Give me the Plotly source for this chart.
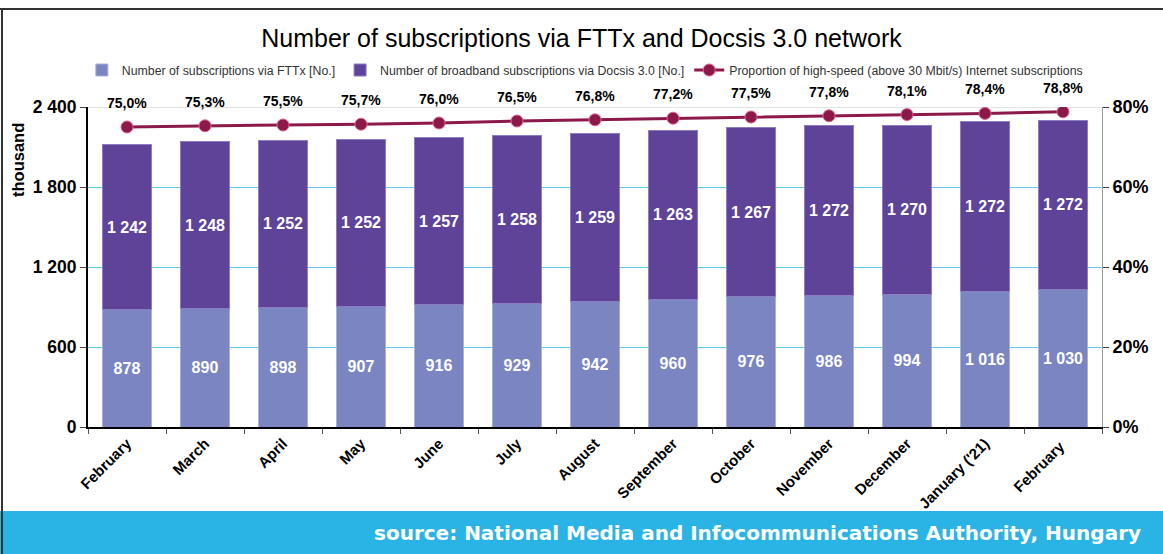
import plotly.graph_objects as go

# data
months = ["February", "March", "April", "May", "June", "July", "August",
          "September", "October", "November", "December", "January ('21)", "February "]
fttx = [878, 890, 898, 907, 916, 929, 942, 960, 976, 986, 994, 1016, 1030]
docsis = [1242, 1248, 1252, 1252, 1257, 1258, 1259, 1263, 1267, 1272, 1270, 1272, 1272]
share = [75.0, 75.3, 75.5, 75.7, 76.0, 76.5, 76.8, 77.2, 77.5, 77.8, 78.1, 78.4, 78.8]

FTTX_COLOR = "#7b85c2"
DOCSIS_COLOR = "#5e4399"
LINE_COLOR = "#8b1a4b"
BAND_COLOR = "#2ab4e6"
FONT = "Liberation Sans, Arial, sans-serif"

W, H = 1163, 554
L, R, T, B = 88, 1102, 107, 427


def px_x(x):
    return (x - L) / (R - L)


def px_y(y):
    return (B - y) / (B - T)


def fmt(v):
    return f"{v:,}".replace(",", " ")


bar_text = dict(color="white", size=16, family=FONT, weight="bold")

fig = go.Figure()

fig.add_trace(go.Bar(
    x=months, y=fttx, name="Number of subscriptions via FTTx [No.]",
    marker=dict(color=FTTX_COLOR, line=dict(color="#aab0dc", width=1)),
    text=[fmt(v) for v in fttx], textposition="inside", insidetextanchor="middle",
    textangle=0, constraintext="none", textfont=bar_text,
))
fig.add_trace(go.Bar(
    x=months, y=docsis, name="Number of broadband subscriptions via Docsis 3.0 [No.]",
    marker=dict(color=DOCSIS_COLOR, line=dict(color="#8c7cc0", width=1)),
    text=[fmt(v) for v in docsis], textposition="inside", insidetextanchor="middle",
    textangle=0, constraintext="none", textfont=bar_text,
))
fig.add_trace(go.Scatter(
    x=months, y=[s / 100 for s in share], yaxis="y2", mode="lines+markers",
    name="Proportion of high-speed (above 30 Mbit/s) Internet subscriptions",
    line=dict(color=LINE_COLOR, width=3),
    marker=dict(color=LINE_COLOR, size=12, line=dict(color="#e0608f", width=1)),
))

# percentage labels above the line
for m, s in zip(months, share):
    fig.add_annotation(
        x=m, y=s / 100, yref="y2", yshift=24, showarrow=False,
        text=f"{s:.1f}%".replace(".", ","),
        font=dict(size=14, color="black", family=FONT, weight="bold"),
    )

# y axis title
fig.add_annotation(
    xref="paper", yref="paper", x=px_x(18), y=px_y(160), text="thousand",
    xanchor="center", yanchor="middle", textangle=-90, showarrow=False,
    font=dict(size=16.5, color="black", family=FONT, weight="bold"),
)

# source band + frame
shapes = [
    dict(type="rect", xref="paper", yref="paper", x0=px_x(0), x1=px_x(W),
         y0=px_y(H), y1=px_y(511), fillcolor=BAND_COLOR, line_width=0, layer="below"),
    dict(type="line", xref="paper", yref="paper", x0=px_x(0), x1=px_x(W),
         y0=px_y(9), y1=px_y(9), line=dict(color="#333333", width=2)),
    dict(type="line", xref="paper", yref="paper", x0=px_x(2), x1=px_x(2),
         y0=px_y(9), y1=px_y(H), line=dict(color="#333333", width=2)),
    dict(type="line", xref="paper", yref="y", x0=0, x1=1, y0=2400, y1=2400,
         line=dict(color="#e2e2e2", width=2), layer="below"),
]
fig.add_annotation(
    xref="paper", yref="paper", x=px_x(1143), y=px_y(533), xanchor="right", yanchor="middle",
    text="source: National Media and Infocommunications Authority, Hungary",
    showarrow=False, font=dict(size=20, color="white", family="DejaVu Sans", weight="bold"),
)

fig.update_layout(
    width=W, height=H,
    margin=dict(l=L, r=W - R, t=T, b=H - B, autoexpand=False),
    barmode="stack", bargap=0.37,
    paper_bgcolor="white", plot_bgcolor="white",
    separators=", ",
    shapes=shapes,
    title=dict(text="Number of subscriptions via FTTx and Docsis 3.0 network",
               x=0.5, xref="container", y=1 - 38 / H, yref="container",
               yanchor="middle", font=dict(size=25, color="black", family=FONT)),
    legend=dict(orientation="h", x=0.49, xanchor="center",
                y=px_y(70), yanchor="middle", traceorder="normal",
                font=dict(size=12.3, color="#333333", family=FONT),
                itemwidth=30, tracegroupgap=0, bgcolor="rgba(0,0,0,0)"),
    xaxis=dict(
        type="category", range=[-0.5, len(months) - 0.5],
        tickangle=-45, showline=True, linecolor="black", linewidth=2,
        ticks="outside", tickson="boundaries", ticklen=5, tickcolor="#555555",
        tickfont=dict(size=15, color="black", family=FONT, weight="bold"),
    ),
    yaxis=dict(
        range=[0, 2400], dtick=600, showgrid=True, gridcolor="#62cdec", gridwidth=1,
        showline=True, linecolor="black", linewidth=2, ticks="outside", ticklen=6,
        tickformat=",d", zeroline=False,
        tickfont=dict(size=17.5, color="black", family=FONT, weight="bold"),
    ),
    yaxis2=dict(
        range=[0, 0.8], dtick=0.2, tickformat=".0%", overlaying="y", side="right",
        showgrid=False, showline=True, linecolor="#999999", linewidth=1,
        ticks="outside", ticklen=6, zeroline=False,
        tickfont=dict(size=18, color="black", family=FONT, weight="bold"),
    ),
)

fig.write_html("out.html", config={"displayModeBar": False},
               post_script="document.body.style.margin='0';")
